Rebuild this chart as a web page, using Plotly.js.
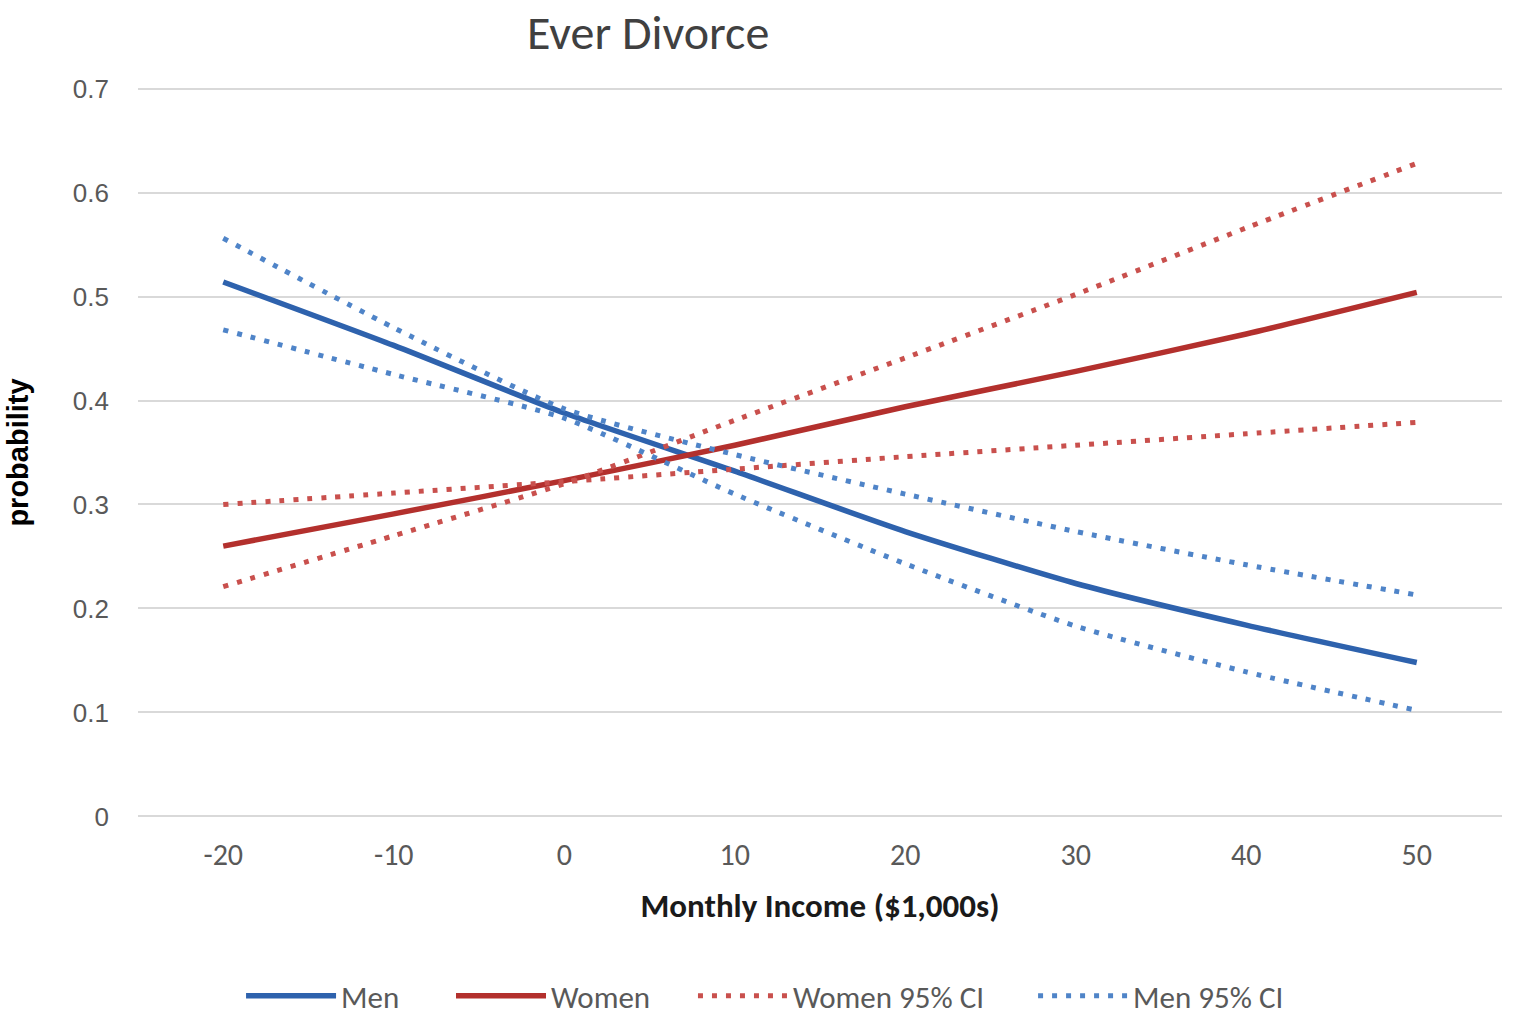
<!DOCTYPE html>
<html>
<head>
<meta charset="utf-8">
<script src="https://cdn.plot.ly/plotly-3.0.1.min.js"></script>
<style>html,body{margin:0;padding:0;background:#fff;}#chart{width:1517px;height:1028px;}</style>
</head>
<body>
<div id="chart"></div>
<script>
const income = [-20, -10, 0, 10, 20, 30, 40, 50];
const men = [0.514, 0.453, 0.388, 0.332, 0.274, 0.224, 0.184, 0.148];
const women = [0.260, 0.291, 0.323, 0.357, 0.394, 0.428, 0.464, 0.504];
const womenCIa = [0.221, 0.270, 0.320, 0.381, 0.441, 0.502, 0.566, 0.628];
const womenCIb = [0.300, 0.311, 0.322, 0.334, 0.346, 0.357, 0.368, 0.379];
const menCIa = [0.556, 0.470, 0.392, 0.348, 0.310, 0.274, 0.242, 0.213];
const menCIb = [0.468, 0.425, 0.383, 0.310, 0.243, 0.183, 0.139, 0.102];
const xTicks = ['-20', '-10', '0', '10', '20', '30', '40', '50'];
const yTicks = [0, 0.1, 0.2, 0.3, 0.4, 0.5, 0.6, 0.7];
const yTickText = ['0', '0.1', '0.2', '0.3', '0.4', '0.5', '0.6', '0.7'];

const FONT = 'Carlito, "Open Sans", sans-serif';
const ARIAL = '"Liberation Sans", Arial, sans-serif';
const BLUE = '#2E62AD', RED = '#B3302D', BLUE_DOT = '#4F84C8', RED_DOT = '#C9504D';
const DOT = '5px,9px';
const legFont = {family: FONT, size: 31, color: '#595959'};

const traces = [
  {x: income, y: men, name: 'Men', legend: 'legend', mode: 'lines', line: {color: BLUE, width: 5.5, shape: 'spline', smoothing: 0.6}},
  {x: income, y: women, name: 'Women', legend: 'legend2', mode: 'lines', line: {color: RED, width: 5.5, shape: 'spline', smoothing: 0.6}},
  {x: income, y: womenCIa, name: 'Women 95% CI', legend: 'legend3', legendgroup: 'wci', mode: 'lines', line: {color: RED_DOT, width: 5, dash: DOT, shape: 'spline', smoothing: 0.6}},
  {x: income, y: womenCIb, name: 'Women 95% CI', legend: 'legend3', legendgroup: 'wci', showlegend: false, mode: 'lines', line: {color: RED_DOT, width: 5, dash: DOT, shape: 'spline', smoothing: 0.6}},
  {x: income, y: menCIa, name: 'Men 95% CI', legend: 'legend4', legendgroup: 'mci', mode: 'lines', line: {color: BLUE_DOT, width: 5, dash: DOT, shape: 'spline', smoothing: 0.6}},
  {x: income, y: menCIb, name: 'Men 95% CI', legend: 'legend4', legendgroup: 'mci', showlegend: false, mode: 'lines', line: {color: BLUE_DOT, width: 5, dash: DOT, shape: 'spline', smoothing: 0.6}}
];

function leg(x) {
  return {orientation: 'h', xref: 'container', yref: 'container', x: x, xanchor: 'left', y: 0.0311, yanchor: 'middle', itemwidth: 90,
    font: legFont, bgcolor: 'rgba(0,0,0,0)'};
}

const layout = {
  width: 1517, height: 1028,
  margin: {l: 138, r: 15, t: 87, b: 210},
  paper_bgcolor: '#ffffff', plot_bgcolor: '#ffffff',
  font: {family: FONT, color: '#595959', size: 24},
  title: {text: 'Ever Divorce', font: {family: FONT, size: 48, color: '#404040'}, x: 0.374, xanchor: 'center', xref: 'paper', y: 0.969, yanchor: 'middle'},
  xaxis: {
    range: [-25, 55], tickmode: 'array', tickvals: income, ticktext: xTicks,
    showgrid: false, zeroline: false, showline: false, ticks: '',
    tickfont: {family: FONT, size: 30, color: '#595959'}, ticklabelstandoff: 16,
    title: {text: '<b>Monthly Income ($1,000s)</b>', font: {family: FONT, size: 33, color: '#1a1a1a'}, standoff: 21}
  },
  yaxis: {
    range: [-0.0015, 0.7015], tickmode: 'array', tickvals: yTicks, ticktext: yTickText,
    showgrid: true, gridcolor: '#d9d9d9', gridwidth: 2, zeroline: false, showline: false, ticks: '',
    tickfont: {family: ARIAL, size: 26, color: '#595959'}, ticklabelstandoff: 28,
    title: {text: '<b>probability</b>', font: {family: ARIAL, size: 29, color: '#000000'}, standoff: 35}
  },
  legend: leg(0.1589),
  legend2: leg(0.2973),
  legend3: leg(0.4568),
  legend4: leg(0.6810),
  showlegend: true
};

Plotly.newPlot('chart', traces, layout, {staticPlot: true, displayModeBar: false});
</script>
</body>
</html>
